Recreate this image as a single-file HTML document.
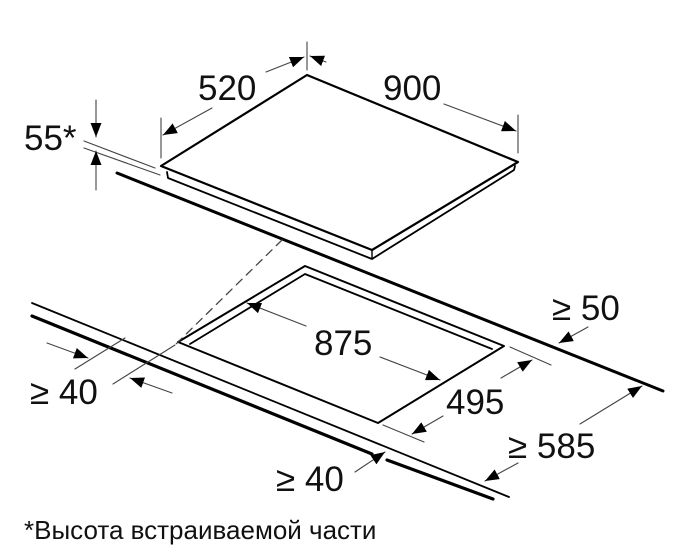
<!DOCTYPE html>
<html><head><meta charset="utf-8"><style>
html,body{margin:0;padding:0;background:#fff;width:700px;height:555px;overflow:hidden}
svg text{font-family:"Liberation Sans",sans-serif;fill:#111}
</style></head><body>
<svg width="700" height="555" viewBox="0 0 700 555" xmlns="http://www.w3.org/2000/svg">
<defs>
<marker id="a" markerWidth="14" markerHeight="11" refX="14" refY="5.5" orient="auto" markerUnits="userSpaceOnUse"><path d="M0,0 L14,5.5 L0,11 Z" fill="#000"/></marker>
</defs>
<g fill="none" stroke="#000" stroke-linecap="round" stroke-linejoin="round">
<!-- hob -->
<path d="M161,166 L307,75 L518,162 L372,250 Z" stroke-width="2.2"/>
<path d="M167,172 L168,178 L372,259 L514,170 L515,166" stroke-width="1.8"/>
<path d="M372,251 L372,259" stroke-width="1.4"/>
<!-- countertop back line -->
<path d="M117,173 L663,391" stroke-width="3"/>
<!-- front countertop -->
<path d="M32,303 L509,497" stroke-width="1.8"/>
<path d="M32,316 L372,454 M387,460 L493,499" stroke-width="3.2"/>
<!-- cutout -->
<path d="M178,342 L305,266 L504,346 L378,423 Z" stroke-width="2"/>
<path d="M190,344 L305,274 L492,349" stroke-width="1.8"/>
<!-- dashed -->
<path d="M282,240 L175,345" stroke="#444" stroke-width="1.3" stroke-dasharray="8,6"/>
<g stroke="#444" stroke-width="1.1">
<path d="M84,141 L155,168 M84,148 L160,175"/>
<path d="M96,100 L96,137" marker-end="url(#a)"/>
<path d="M96,190 L96,151" marker-end="url(#a)"/>
<path d="M161,118 L161,158 M307,42 L307,70 M518,115 L518,153"/>
<path d="M212,108 L163,135" marker-end="url(#a)"/>
<path d="M266,72 L304,57" marker-end="url(#a)"/>
<path d="M326,62 L310,56" marker-end="url(#a)"/>
<path d="M444,104 L516,131" marker-end="url(#a)"/>
<path d="M306,326 L247,303" marker-end="url(#a)"/>
<path d="M380,357 L440,380" marker-end="url(#a)"/>
<path d="M383,425 L424,442 M510,347 L551,365"/>
<path d="M443,416 L412,434" marker-end="url(#a)"/>
<path d="M501,378 L532,360" marker-end="url(#a)"/>
<path d="M75,369 L125,338 M113,384 L175,345"/>
<path d="M47,343 L88,358" marker-end="url(#a)"/>
<path d="M172,393 L130,378" marker-end="url(#a)"/>
<path d="M355,472 L385,452" marker-end="url(#a)"/>
<path d="M588,327 L559,343" marker-end="url(#a)"/>
<path d="M518,463 L485,481" marker-end="url(#a)"/>
<path d="M580,424 L642,386" marker-end="url(#a)"/>
</g>
</g>
<g font-size="35">
<text x="198" y="100">520</text>
<text x="383" y="100">900</text>
<text x="24" y="150">55*</text>
<text x="314" y="355">875</text>
<text x="446" y="414">495</text>
<text x="552" y="320">≥ 50</text>
<text x="508" y="458">≥ 585</text>
<text x="30" y="404">≥ 40</text>
<text x="276" y="491">≥ 40</text>
</g>
<text x="24" y="539" font-size="26">*Высота встраиваемой части</text>
</svg>
</body></html>
